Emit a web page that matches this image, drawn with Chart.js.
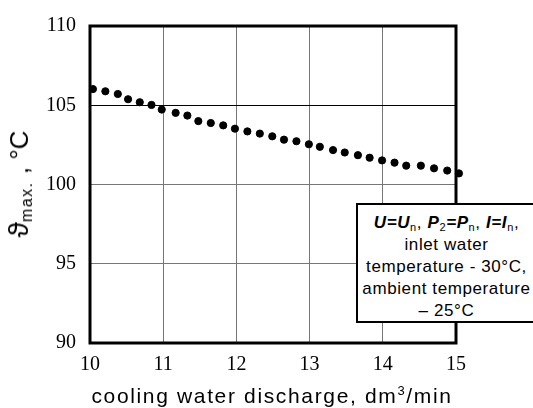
<!DOCTYPE html>
<html><head><meta charset="utf-8">
<script src="https://cdn.jsdelivr.net/npm/chart.js@4.4.0/dist/chart.umd.min.js"></script>
<style>
body{margin:0;background:#fff;overflow:hidden;}
#wrap{position:relative;width:533px;height:408px;overflow:hidden;background:#fff;}
#c{position:absolute;left:0;top:0;}
.ytitle{position:absolute;left:23px;top:184px;transform:translate(-50%,-50%) rotate(-90deg);font-family:"Liberation Sans",Arial,sans-serif;font-size:26px;white-space:nowrap;line-height:26px;color:#000;}
.ytitle .th{font-size:28px;}
.ytitle sub{font-size:16px;letter-spacing:1.5px;vertical-align:-4px;}
.xtitle{position:absolute;left:272px;top:385px;transform:translateX(-50%);font-family:"Liberation Sans",Arial,sans-serif;font-size:21px;line-height:21px;letter-spacing:1.65px;white-space:nowrap;color:#000;}
.xtitle sup{font-size:13px;vertical-align:8px;line-height:0;}
.box{position:absolute;left:356px;top:203px;width:300px;height:116px;border:2.5px solid #000;background:#fff;}
.box .txt{position:absolute;left:0;top:7px;width:177px;text-align:center;font-family:"Liberation Sans",Arial,sans-serif;font-size:17px;line-height:22px;letter-spacing:0.6px;color:#000;white-space:nowrap;}
.box .txt i{font-weight:bold;}
.box .txt sub{font-size:11px;vertical-align:-3px;line-height:0;font-style:normal;font-weight:normal;}
</style></head>
<body>
<div id="wrap">
<canvas id="c" width="533" height="408"></canvas>
<div class="ytitle"><span class="th">ϑ</span><sub>max.</sub> , °C</div>
<div class="xtitle">cooling water discharge, dm<sup>3</sup>/min</div>
<div class="box"><div class="txt">
<i>U</i><i>=</i><i>U</i><sub>n</sub>, <i>P</i><sub>2</sub><i>=</i><i>P</i><sub>n</sub>, <i>I</i><i>=</i><i>I</i><sub>n</sub>,<br>
inlet water<br>
temperature - 30°C,<br>
ambient temperature<br>
– 25°C
</div></div>
</div>
<script>
const xValues=[10.04,10.21,10.38,10.52,10.68,10.84,10.98,11.17,11.33,11.48,11.65,11.82,11.98,12.15,12.32,12.49,12.65,12.82,12.99,13.14,13.32,13.48,13.66,13.82,13.99,14.16,14.32,14.52,14.70,14.88,15.04];
const yValues=[106.02,105.88,105.71,105.38,105.19,105.02,104.73,104.52,104.35,104.0,103.88,103.73,103.52,103.35,103.21,103.04,102.83,102.73,102.54,102.38,102.17,102.02,101.85,101.69,101.52,101.38,101.19,101.19,101.02,100.88,100.7];
const xTicks=[10,11,12,13,14,15];
const yTicks=[90,95,100,105,110];

const points=xValues.map((x,i)=>({x:x,y:yValues[i]}));

const frame={id:'frame',afterDraw(chart){
  const a=chart.chartArea,ctx=chart.ctx;
  ctx.save();ctx.strokeStyle='#000';ctx.lineWidth=3;
  ctx.strokeRect(a.left,a.top,a.right-a.left,a.bottom-a.top);
  ctx.restore();
}};

new Chart(document.getElementById('c'),{
  type:'scatter',
  data:{datasets:[{data:points,backgroundColor:'#000',borderColor:'#000',pointRadius:3.6,pointHoverRadius:3.6,showLine:false,clip:false}]},
  options:{
    responsive:false,animation:false,
    layout:{padding:{top:24,right:77,left:0,bottom:0}},
    plugins:{legend:{display:false},tooltip:{enabled:false}},
    scales:{
      x:{type:'linear',min:10,max:15,
        afterBuildTicks(s){s.ticks=xTicks.map(v=>({value:v}));},
        afterFit(s){s.height=65;},
        grid:{color:'#777',lineWidth:1,drawTicks:false},
        border:{display:false},
        ticks:{padding:10,color:'#000',font:{family:'"Liberation Serif", "Times New Roman", serif',size:20},callback:v=>String(v)}
      },
      y:{type:'linear',min:90,max:110,
        afterBuildTicks(s){s.ticks=yTicks.map(v=>({value:v}));},
        afterFit(s){s.width=90;},
        grid:{color:c=>c.tick&&c.tick.value===105?'#000':'#777',lineWidth:1,drawTicks:false},
        border:{display:false},
        ticks:{padding:14,color:'#000',font:{family:'"Liberation Serif", "Times New Roman", serif',size:20},callback:v=>String(v)}
      }
    }
  },
  plugins:[frame]
});
</script>
</body></html>
